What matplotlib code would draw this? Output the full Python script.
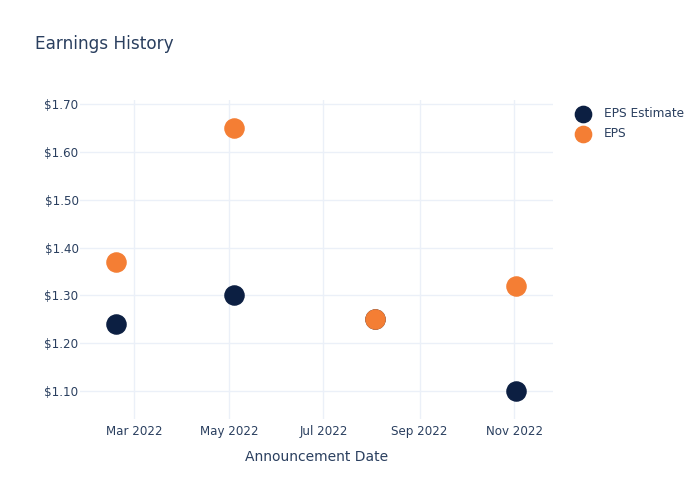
import matplotlib
matplotlib.use("Agg")
import matplotlib.pyplot as plt
import matplotlib.dates as mdates
import numpy as np
import datetime as dt

dates = ["2022-02-17", "2022-05-04", "2022-08-03", "2022-11-02"]
eps_estimate = [1.24, 1.30, 1.25, 1.10]
eps_actual = [1.37, 1.65, 1.25, 1.32]
yticks = [1.10, 1.20, 1.30, 1.40, 1.50, 1.60, 1.70]

x = [dt.datetime.strptime(d, "%Y-%m-%d") for d in dates]

txt = "#2a3f5f"
grid = "#ebf0f8"

fig = plt.figure(figsize=(7, 5), dpi=100)
ax = fig.add_axes([80/700, 1-419/500, 473/700, 319/500])

ax.scatter(x, eps_estimate, s=190, color="#0c1f42", label="EPS Estimate", zorder=3)
ax.scatter(x, eps_actual, s=190, color="#f47e34", label="EPS", zorder=4)

ax.set_xlim(dt.datetime(2022, 1, 25), dt.datetime(2022, 11, 26))
ax.set_ylim(1.0415, 1.7084)
ax.set_yticks(yticks)
ax.yaxis.set_major_formatter(plt.FuncFormatter(lambda v, p: "${:.2f}".format(v)))
ax.xaxis.set_major_locator(mdates.MonthLocator(bymonth=[3, 5, 7, 9, 11]))
ax.xaxis.set_major_formatter(mdates.DateFormatter("%b %Y"))

ax.grid(True, color=grid, linewidth=1)
ax.set_axisbelow(True)
for s in ax.spines.values():
    s.set_visible(False)
ax.tick_params(length=0, colors=txt, labelsize=8.6)
ax.tick_params(axis="y", pad=1)
ax.tick_params(axis="x", pad=4)
ax.set_xlabel("Announcement Date", color=txt, fontsize=10, labelpad=9)

fig.text(35/700, 1-44/500, "Earnings History", color=txt, fontsize=12.2, va="center")

leg = ax.legend(loc="upper left", bbox_to_anchor=(560/700, 1-96/500), bbox_transform=fig.transFigure,
                frameon=False, fontsize=8.7, handletextpad=0.75, labelspacing=0.6, markerscale=0.85)
for t in leg.get_texts():
    t.set_color(txt)

fig.savefig("out.png", dpi=100)
